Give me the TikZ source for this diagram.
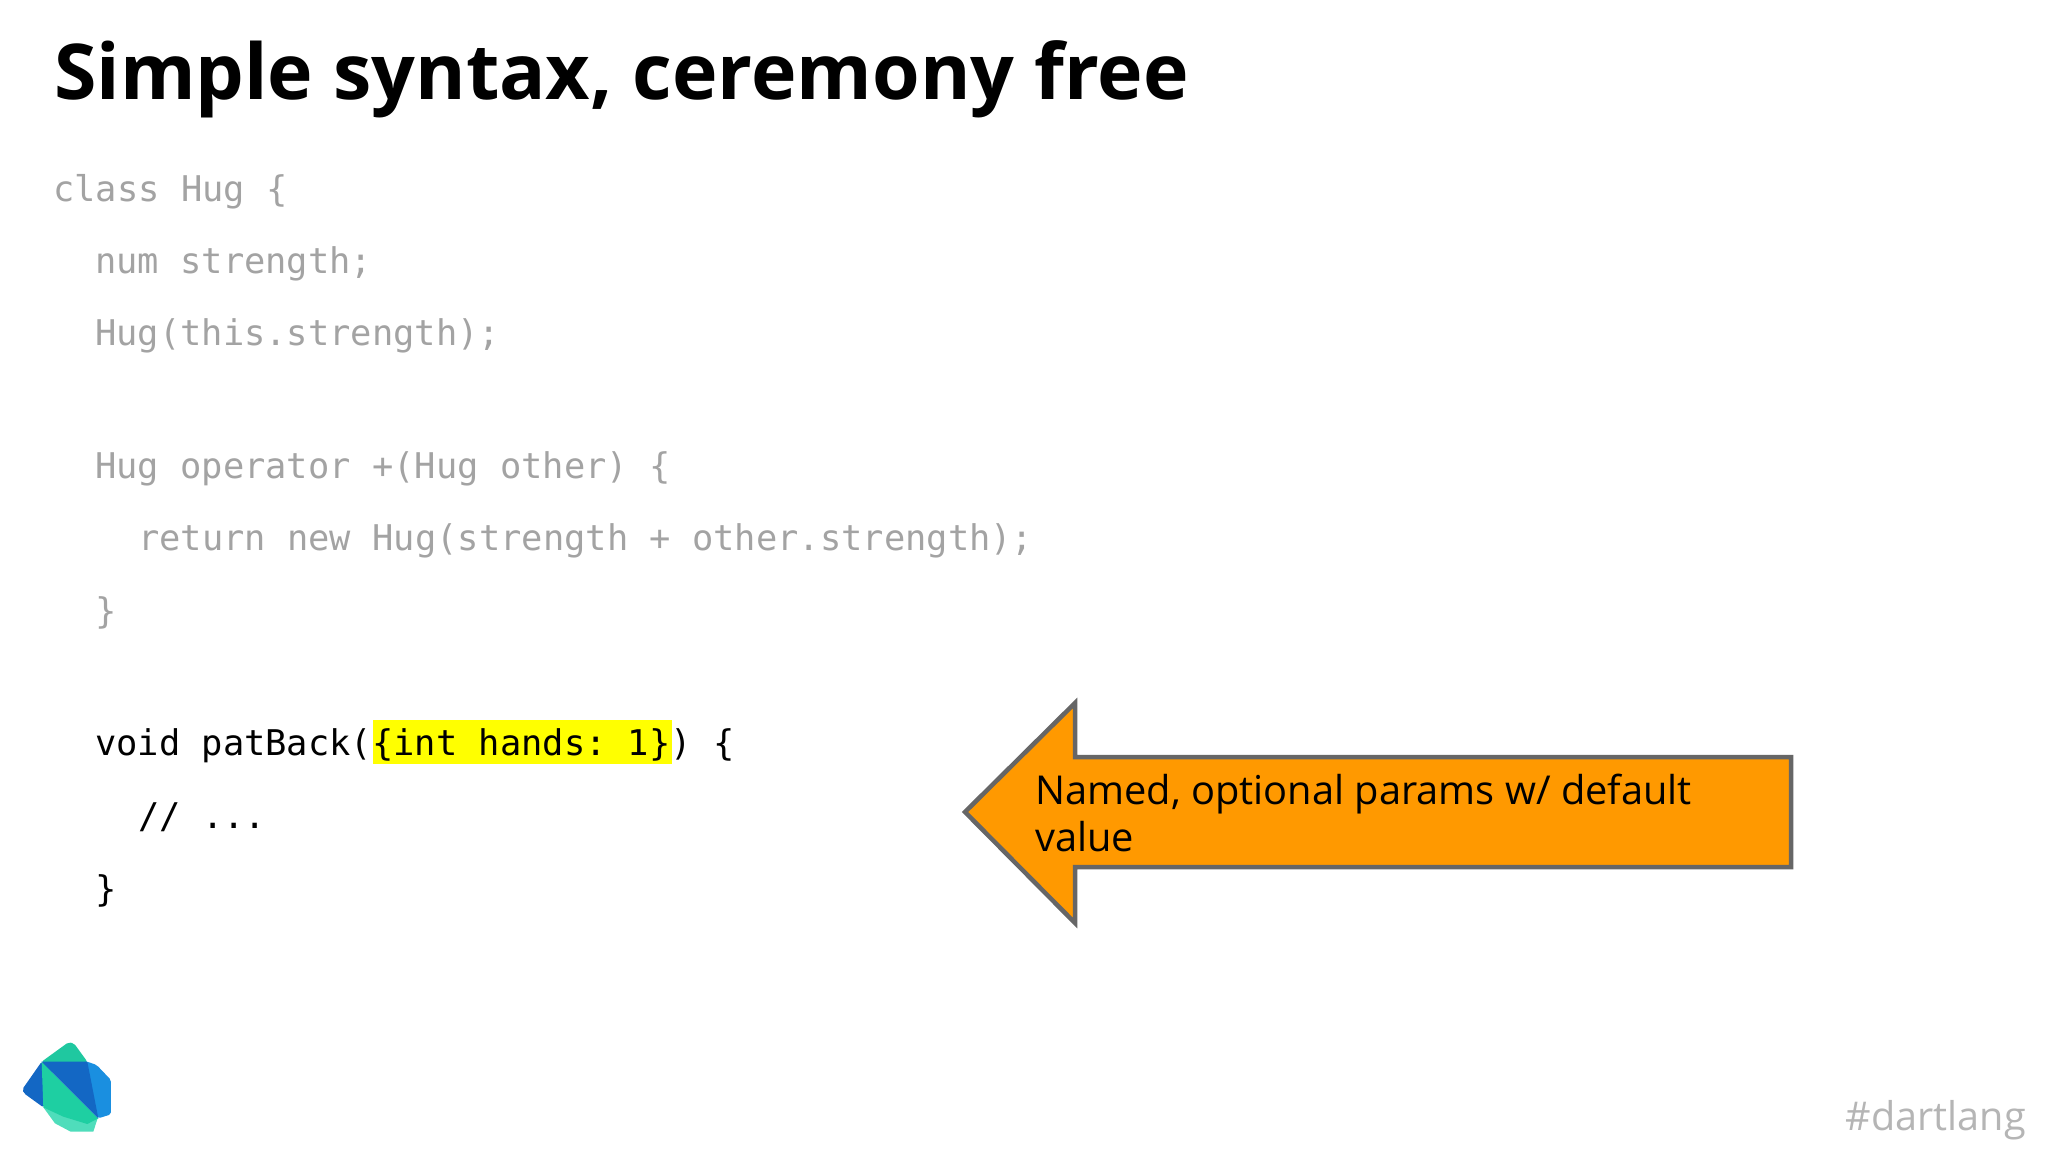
\documentclass[tikz,border=0pt]{standalone}
\usepackage{fontspec}
\setmainfont{Open Sans}
\setmonofont{DejaVu Sans Mono}
\definecolor{codegrey}{HTML}{A3A3A3}
\definecolor{tagrey}{HTML}{B5B5B5}
\definecolor{arroworange}{HTML}{FF9900}
\definecolor{arrowedge}{HTML}{666666}
\definecolor{hl}{HTML}{FFFF00}
\definecolor{lteal}{HTML}{1FC8A0}
\definecolor{lgreen}{HTML}{1ECFA2}
\definecolor{lpale}{HTML}{4FDDBB}
\definecolor{lblue}{HTML}{1367C4}
\definecolor{lsky}{HTML}{1A8FE0}
\tikzset{
  code/.style={anchor=base west,inner sep=0pt,font=\fontsize{35.4}{40}\selectfont\ttfamily,text=codegrey},
  codeon/.style={code,text=black},
  calloutfont/.style={anchor=base west,inner sep=0pt,font=\fontsize{39.8}{48}\selectfont,text=black},
}
\begin{document}
\begin{tikzpicture}[x=1pt,y=-1pt]
\useasboundingbox (0,0) rectangle (2048,1152);
\fill[white] (0,0) rectangle (2048,1152);
\node[anchor=base west,inner sep=0pt,font=\fontsize{77}{90}\selectfont\bfseries] (title) at (54,99) {Simple syntax, ceremony free};
\node[code] (c1) at (53,201) {class Hug \{};
\node[code] (c2) at (95,273) {num strength;};
\node[code] (c3) at (95,345) {Hug(this.strength);};
\node[code] (c4) at (95,478) {Hug operator +(Hug other) \{};
\node[code] (c5) at (138,550) {return new Hug(strength + other.strength);};
\node[code] (c6) at (95,623) {\}};
\fill[hl] (373,720) rectangle (672,764);
\node[codeon] (c7) at (95,755) {void patBack(\{int hands: 1\}) \{};
\node[codeon] (c8) at (138,828) {// ...};
\node[codeon] (c9) at (95,901) {\}};
\draw[draw=arrowedge,fill=arroworange,line width=4.5pt,line join=miter]
  (965,812) -- (1075,703) -- (1075,757) -- (1791,757) -- (1791,867) -- (1075,867) -- (1075,923) -- cycle;
\node[calloutfont] (n1) at (1035,804) {Named, optional params w/ default};
\node[calloutfont] (n2) at (1035,851) {value};
\node[anchor=base east,inner sep=0pt,font=\fontsize{39.6}{48}\selectfont,text=tagrey] (tag) at (2026,1130) {\#dartlang};
\begin{scope}[shift={(0,1020)},x=0.3333pt,y=-0.3333pt]
\fill[lteal,rounded corners=2pt] (125,125) -- (205,67) -- (222,70) -- (262,125) -- (262,160) -- (160,160) -- cycle;
\fill[lblue,rounded corners=2pt] (125,125) -- (67,208) -- (72,220) -- (130,262) -- (160,200) -- cycle;
\fill[lsky,rounded corners=2pt] (250,125) -- (262,125) -- (290,135) -- (333,180) -- (333,283) -- (295,295) -- (260,200) -- cycle;
\fill[lpale] (130,262) -- (165,310) -- (212,335) -- (280,335) -- (293,295) -- (200,240) -- cycle;
\fill[lgreen] (125,125) -- (295,295) -- (262,312) -- (190,290) -- (130,262) -- cycle;
\fill[lblue] (125,125) -- (262,125) -- (295,295) -- cycle;
\end{scope}
\end{tikzpicture}
\end{document}
